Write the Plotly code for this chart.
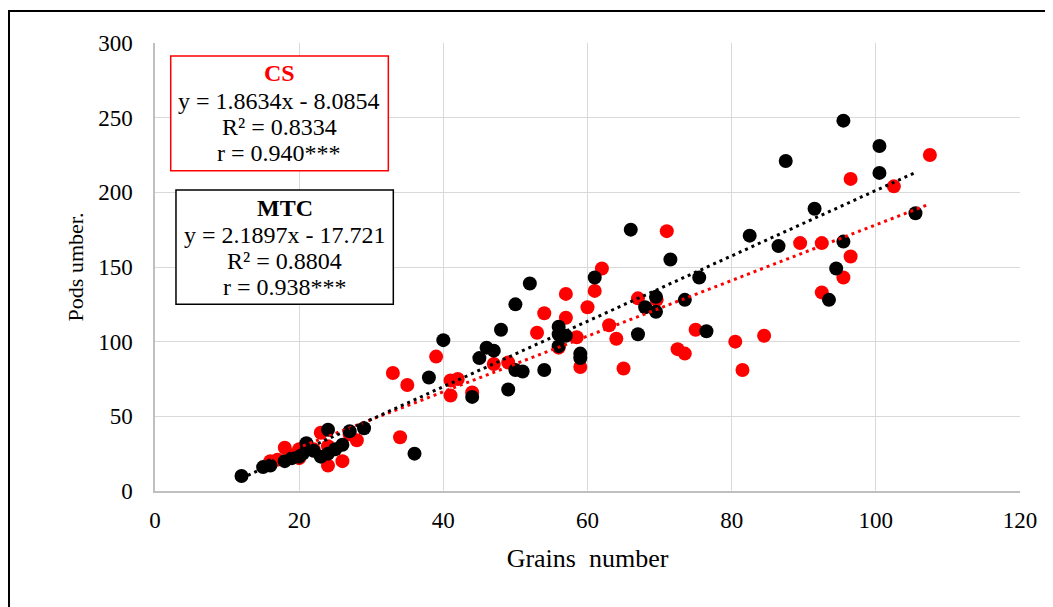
import plotly.graph_objects as go

# ---------------- data ----------------
cs_x = [16, 17, 18, 19, 20, 20, 21, 22, 23, 24, 24, 26, 27, 28,
        33, 34, 35, 39, 41, 41, 42, 44, 47, 49, 53, 54, 56, 57, 57,
        58.5, 59, 60, 61, 62, 63, 64, 65, 67, 69.6, 71, 72.5, 73.5, 75,
        80.5, 81.5, 84.5, 89.5, 92.5, 92.5, 95.5, 96.5, 96.5, 102.5, 107.5]
cs_y = [20, 21, 29, 24, 22, 28, 30, 28, 39, 17, 30, 20, 38, 34,
        79, 36, 71, 90, 64, 74, 75, 66, 85, 86, 106, 119, 96, 132, 116,
        103, 83, 123, 134, 149, 111, 102, 82, 129, 128, 174, 95, 92, 108,
        100, 81, 104, 166, 133, 166, 143, 157, 209, 204, 225]

mtc_x = [12, 15, 16, 18, 19, 20, 20.5, 21, 22, 23, 24, 24, 25, 26, 27, 29,
         36, 38, 40, 44, 45, 46, 47, 48, 49, 50, 50, 51, 52, 54, 56, 56, 56,
         57, 59, 59, 61, 66, 67, 68, 69.5, 69.5, 71.5, 73.5, 75.5, 76.5,
         82.5, 86.5, 87.5, 91.5, 93.5, 94.5, 95.5, 95.5, 100.5, 100.5, 105.5]
mtc_y = [10, 16, 17, 20, 22, 23, 25, 32, 27, 23, 41, 25, 28, 31, 40, 42,
         25, 76, 101, 63, 89, 96, 94, 108, 68, 125, 81, 80, 139, 81, 110, 105, 97,
         104, 92, 89, 143, 175, 105, 123, 130, 120, 155, 128, 143, 107,
         171, 164, 221, 189, 128, 149, 167, 248, 231, 213, 186]

series_names = ["CS", "MTC"]
slopes = [1.8634, 2.1897]
intercepts = [-8.0854, -17.721]
r2_values = ["0.8334", "0.8804"]
r_values = ["0.940***", "0.938***"]

x_ticks = [0, 20, 40, 60, 80, 100, 120]
y_ticks = [0, 50, 100, 150, 200, 250, 300]

RED = "#ff0000"
BLACK = "#000000"
FONT = "Liberation Serif, Times New Roman, serif"

fig = go.Figure()

# scatter points
fig.add_trace(go.Scatter(x=cs_x, y=cs_y, mode="markers", name="CS",
                         marker=dict(color=RED, size=14)))
fig.add_trace(go.Scatter(x=mtc_x, y=mtc_y, mode="markers", name="MTC",
                         marker=dict(color=BLACK, size=14)))

# trendlines from the reported equations, over the data range
for xs, slope, icpt, col in [(cs_x, slopes[0], intercepts[0], RED),
                             (mtc_x, slopes[1], intercepts[1], BLACK)]:
    x0, x1 = min(xs), max(xs)
    fig.add_trace(go.Scatter(x=[x0, x1], y=[slope * x0 + icpt, slope * x1 + icpt],
                             mode="lines", line=dict(color=col, width=3, dash="3px,4px"),
                             showlegend=False, hoverinfo="skip"))

# equation boxes
fig.add_shape(type="rect", xref="x", yref="y", x0=2.18, x1=32.37, y0=214.5, y1=291.3,
              line=dict(color=RED, width=1.5), fillcolor="white", layer="above")
fig.add_shape(type="rect", xref="x", yref="y", x0=2.91, x1=33.06, y0=125.0, y1=201.6,
              line=dict(color=BLACK, width=1.5), fillcolor="white", layer="above")

box_specs = [
    (0, 17.27, [279.9, 261.2, 243.8, 226.3], RED),
    (1, 17.99, [189.5, 171.4, 154.0, 136.6], BLACK),
]
for i, cx, ys, title_col in box_specs:
    lines = [f"<b>{series_names[i]}</b>",
             f"y = {slopes[i]}x - {abs(intercepts[i])}",
             f"R² = {r2_values[i]}",
             f"r = {r_values[i]}"]
    for j, (txt, yy) in enumerate(zip(lines, ys)):
        fig.add_annotation(xref="x", yref="y", x=cx, y=yy, showarrow=False, text=txt,
                           font=dict(family=FONT, size=24,
                                     color=title_col if j == 0 else BLACK))

# outer frame
fig.add_shape(type="rect", xref="paper", yref="paper",
              x0=-0.1688, x1=1.0358, y0=-0.30, y1=1.0714,
              line=dict(color=BLACK, width=2), fillcolor="rgba(0,0,0,0)", layer="below")

fig.update_xaxes(range=[0, 120], tickvals=x_ticks, showgrid=True, gridcolor="#d9d9d9",
                 gridwidth=1, zeroline=False, showline=True, linecolor="#bfbfbf",
                 linewidth=1.5, mirror=False, ticks="", ticklabelstandoff=8,
                 tickfont=dict(family=FONT, size=23, color=BLACK),
                 title=dict(text="Grains\u00a0 number", standoff=16,
                            font=dict(family=FONT, size=26, color=BLACK)))
fig.update_yaxes(range=[0, 300], tickvals=y_ticks, showgrid=True, gridcolor="#d9d9d9",
                 gridwidth=1, zeroline=False, showline=True, linecolor="#bfbfbf",
                 linewidth=1.5, ticks="", ticklabelstandoff=16,
                 tickfont=dict(family=FONT, size=23, color=BLACK),
                 title=dict(text="Pods umber.", standoff=8,
                            font=dict(family=FONT, size=22, color=BLACK)))

fig.update_layout(width=1045, height=599, showlegend=False,
                  margin=dict(l=147, r=33, t=35, b=116, autoexpand=False),
                  paper_bgcolor="white", plot_bgcolor="white")

fig.write_html("out.html")
